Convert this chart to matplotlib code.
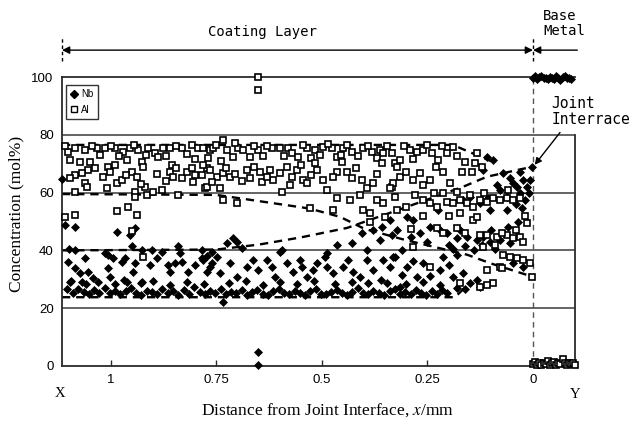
#!/usr/bin/python3

import matplotlib
matplotlib.use("Agg")
import matplotlib.pyplot as plt
from matplotlib.lines import Line2D

# ---- data (x: distance from interface in mm, y: mol%) ----

# dense Nb band along the lower envelope
nb_band_x = [1.105, 1.09, 1.078, 1.065, 1.052, 1.04, 1.028, 1.015, 1.003,
             0.99, 0.978, 0.965, 0.953, 0.94, 0.928, 0.915, 0.903,
             0.89, 0.878, 0.865, 0.853, 0.84, 0.828, 0.815, 0.803,
             0.79, 0.778, 0.765, 0.753, 0.74, 0.728, 0.715, 0.703,
             0.69, 0.678, 0.665, 0.653, 0.64, 0.628, 0.615, 0.603,
             0.59, 0.578, 0.565, 0.553, 0.54, 0.528, 0.515, 0.503,
             0.49, 0.478, 0.465, 0.453, 0.44, 0.428, 0.415, 0.403,
             0.39, 0.378, 0.365, 0.353, 0.34, 0.328, 0.315, 0.303,
             0.29, 0.278, 0.265, 0.253, 0.24, 0.228, 0.215, 0.203]
nb_band_y = [26.5, 25.2, 26.8, 25.5, 24.8, 26.2, 25.4, 27.0, 25.1, 26.0,
             24.9, 25.8, 26.9, 25.3, 24.7, 26.1, 25.6, 24.9, 26.6, 25.2,
             25.9, 24.6, 26.3, 25.0, 27.2, 25.5, 24.8, 26.0, 25.3, 26.7,
             24.9, 25.7, 25.1, 26.4, 24.7, 25.6, 26.2, 25.0, 24.6, 25.9,
             26.8, 25.2, 24.9, 26.1, 25.4, 24.7, 25.8, 26.5, 25.0, 24.8,
             25.6, 26.3, 25.1, 24.6, 25.7, 26.9, 25.3, 24.8, 26.0, 25.2,
             24.7, 25.9, 26.6, 25.0, 25.5, 24.8, 26.2, 25.1, 24.7, 25.8,
             24.9, 26.4, 25.3]

nb_row2_x = [1.095, 1.06, 1.03, 0.99, 0.97, 0.93, 0.9, 0.86, 0.82, 0.78,
             0.735, 0.72, 0.68, 0.64, 0.6, 0.56, 0.52, 0.47, 0.43, 0.39,
             0.36, 0.3, 0.26, 0.22, 0.18, 0.16]
nb_row2_y = [29.5, 28.5, 29.2, 28.3, 29.6, 28.7, 29.3, 28.2, 29.0, 28.4,
             22.0, 28.8, 29.5, 28.2, 29.0, 28.5, 29.4, 28.3, 29.1, 28.6,
             29.6, 28.4, 29.2, 28.0, 27.0, 26.5]

nb_mid = [(1.102, 36), (1.062, 37.4), (1.085, 33.9), (1.073, 32.2), (1.054, 32.5),
          (1.043, 30.4), (1.097, 29), (1.069, 29), (1.007, 33.9), (1.002, 30.8),
          (0.995, 37.4), (0.974, 36), (0.967, 37.4), (0.943, 35.6), (0.948, 32.5),
          (0.926, 29), (0.962, 29), (0.908, 34.9), (0.891, 37.4), (0.865, 34.9),
          (0.86, 32.5), (0.848, 35.6), (0.832, 36), (0.818, 32.5), (0.801, 34.9),
          (0.784, 37.4), (0.773, 32.5), (0.761, 35.6), (0.782, 36.7), (0.765, 34.3),
          (0.749, 37.7), (0.742, 32.2), (0.718, 35.6), (0.701, 30.8), (0.678, 34.3),
          (0.664, 36.7), (0.652, 33.2), (0.63, 36.7), (0.618, 34.3), (0.611, 30.8),
          (0.583, 35.6), (0.569, 32.5), (0.552, 36.7), (0.547, 34.3), (0.536, 30.8),
          (0.521, 33.2), (0.512, 35.6), (0.493, 37.7), (0.488, 34.3), (0.474, 32.2),
          (0.45, 34.3), (0.438, 36.7), (0.427, 32.5), (0.41, 30.8), (0.393, 36.7),
          (0.379, 33.2), (0.355, 36.7), (0.339, 34.3), (0.327, 37.7), (0.332, 37.7),
          (0.299, 34.3), (0.275, 30.8), (0.261, 35.6), (0.22, 33.2), (0.213, 37.7),
          (0.19, 30.8), (0.166, 32.2), (0.149, 28.7), (0.133, 29.8), (0.126, 27.3),
          (0.346, 28.7), (0.315, 27.3), (0.047, 35.6), (0.024, 34.3), (0.31, 31.5),
          (0.285, 36.5), (0.245, 31), (0.2, 35), (0.18, 38.5)]

nb_upper = [(1.109, 48.8), (1.085, 48.1), (0.986, 46.4), (0.955, 45.3), (0.943, 47.8),
            (1.1, 40.5), (1.085, 40), (1.014, 39), (1.007, 38.5), (0.95, 41.5),
            (0.926, 40), (0.903, 40), (0.879, 39.5), (0.84, 41.5), (0.836, 39),
            (0.785, 40.3), (0.773, 38), (0.76, 39.5), (0.711, 44.3), (0.701, 42.9),
            (0.725, 42.6), (0.69, 41), (0.6, 39.4), (0.595, 40), (0.488, 39.1),
            (0.464, 41.9), (0.429, 42.6), (0.405, 46), (0.379, 47.1), (0.358, 48.1),
            (0.334, 45.3), (0.393, 40.1), (0.363, 43.6), (1.116, 64.7)]

nb_trans = [(0.095, 71.3), (0.109, 72.3), (0.118, 67.8), (0.071, 66.8), (0.047, 63.3),
            (0.038, 62), (0.024, 64.4), (0.007, 64.4), (0.002, 68.9), (0.014, 62),
            (0.078, 60.9), (0.062, 58.5), (0.031, 59.9), (0.019, 57.4), (0.062, 54),
            (0.026, 54.7), (0.107, 58.1), (0.126, 56.4), (0.149, 58.5), (0.166, 57.4),
            (0.225, 54), (0.22, 47.1), (0.204, 46), (0.18, 44.3), (0.156, 44.6),
            (0.133, 43.6), (0.118, 44.6), (0.102, 42.9), (0.078, 43.6), (0.055, 42.6),
            (0.244, 48.1), (0.268, 46), (0.284, 50.5), (0.299, 51.6), (0.339, 50.5),
            (0.322, 47.1), (0.173, 47.1), (0.102, 54), (0.2, 42), (0.19, 40.5),
            (0.16, 41.5), (0.14, 40), (0.12, 41.8), (0.09, 40.5), (0.04, 56),
            (0.01, 60), (0.085, 62.5), (0.055, 65), (0.03, 67), (0.1, 47),
            (0.06, 48), (0.035, 50), (0.25, 43), (0.29, 44.5), (0.31, 40)]

nb_base_x = [0.0, -0.005, -0.01, -0.015, -0.02, -0.025, -0.03, -0.035, -0.04, -0.045,
             -0.05, -0.055, -0.06, -0.065, -0.07, -0.075, -0.08, -0.085, -0.09]
nb_base_y = [99.6, 100.2, 99.3, 99.9, 100.3, 99.5, 99.8, 99.2, 100.1, 99.7,
             99.4, 100.3, 99.6, 99.0, 99.9, 100.2, 99.5, 99.8, 99.4]

nb_stray = [(0.652, 0.3), (0.652, 5.0)]

al_top = [(1.101, 74.1), (1.097, 71.3), (1.085, 75.4), (1.073, 70.6), (1.062, 74.7),
          (1.05, 70.6), (1.033, 75.4), (1.014, 75.4), (0.991, 75.4), (0.972, 74),
          (0.962, 71.3), (0.955, 75.4), (0.936, 74.7), (0.926, 70.6), (0.912, 75.4),
          (0.896, 73.7), (0.889, 72.3), (0.877, 75.4), (0.86, 75.4), (0.856, 69.6),
          (0.832, 75.4), (0.808, 76.5), (0.794, 75.4), (0.77, 72), (0.765, 74.7),
          (0.735, 78.2), (0.782, 75.4), (0.758, 75.4), (0.725, 74.7), (0.711, 72.3),
          (0.699, 75.4), (0.687, 74.7), (0.671, 72.3), (0.652, 74.7), (0.618, 75.4),
          (0.6, 75.4), (0.581, 75.4), (0.571, 73.7), (0.557, 72.3), (0.536, 75.4),
          (0.517, 74.7), (0.498, 75.8), (0.476, 75.4), (0.464, 72.3), (0.45, 75.4),
          (0.429, 74), (0.403, 75.4), (0.382, 74), (0.363, 74.7), (0.334, 73.7),
          (0.327, 70.2), (0.355, 73.7), (0.315, 71.3), (0.291, 74.7), (0.275, 74),
          (0.261, 74.7), (0.239, 73.7), (0.225, 71.3), (0.204, 73.7), (0.19, 75.8),
          (0.133, 73.7), (0.137, 70.2), (0.145, 67.1), (1.11, 76), (1.045, 76.2),
          (1.025, 73), (1.0, 76), (0.98, 72.8), (0.945, 76.3), (0.918, 73),
          (0.87, 72.5), (0.845, 76), (0.82, 73.2), (0.8, 71.5), (0.75, 76.5),
          (0.74, 71), (0.705, 77), (0.66, 76), (0.64, 72.8), (0.63, 76.2),
          (0.59, 72.5), (0.545, 76.5), (0.525, 72), (0.505, 73), (0.485, 76.8),
          (0.455, 73), (0.44, 76.5), (0.415, 72.5), (0.39, 76.2), (0.37, 72),
          (0.345, 76), (0.305, 76), (0.285, 71.5), (0.25, 76.3), (0.215, 76),
          (0.18, 72.5), (0.16, 70.5), (0.12, 69)]

al_mid = [(1.054, 67.8), (1.069, 66.8), (1.085, 66.1), (1.097, 65), (1.038, 68.5),
          (1.062, 63.3), (1.057, 62), (1.085, 60.2), (1.007, 68.9), (1.002, 67.1),
          (1.009, 61.6), (0.986, 63.3), (0.974, 64.4), (0.95, 67.1), (0.943, 60.2),
          (0.943, 58.5), (0.938, 65.4), (0.924, 68.9), (0.919, 62), (0.914, 59.2),
          (0.9, 60.2), (0.879, 60.9), (0.86, 67.1), (0.853, 65.4), (0.841, 59.2),
          (0.832, 65), (0.82, 67.1), (0.808, 68.5), (0.806, 63.7), (0.784, 66.1),
          (0.777, 61.6), (0.773, 68.5), (0.782, 69.6), (0.765, 67.8), (0.749, 65.4),
          (0.735, 66.8), (0.718, 65.4), (0.773, 62), (0.742, 61.6), (0.678, 67.8),
          (0.671, 65), (0.647, 67.1), (0.642, 63.7), (0.623, 67.8), (0.616, 64.4),
          (0.6, 66.8), (0.595, 60.2), (0.583, 68.9), (0.571, 65.4), (0.559, 67.8),
          (0.545, 64.4), (0.536, 63.3), (0.517, 70.2), (0.512, 67.8), (0.498, 64.4),
          (0.488, 60.9), (0.464, 67.1), (0.453, 70.6), (0.441, 67.1), (0.429, 65),
          (0.405, 64.4), (0.393, 61.6), (0.379, 63.3), (0.358, 70.2), (0.334, 62),
          (0.322, 68.9), (0.315, 65.4), (0.332, 63.3), (0.339, 61.6), (0.284, 64.4),
          (0.268, 66.8), (0.244, 64.4), (0.213, 67.1), (0.197, 63.3), (0.168, 67.1),
          (0.18, 60.2), (0.213, 59.9), (1.02, 65.5), (0.99, 69.5), (0.965, 66),
          (0.93, 63), (0.89, 66.5), (0.87, 64), (0.845, 68.5), (0.8, 66),
          (0.76, 63.5), (0.728, 68.5), (0.705, 66.5), (0.69, 64), (0.66, 69),
          (0.63, 65.5), (0.575, 62.5), (0.55, 69.5), (0.525, 66), (0.475, 65.5),
          (0.42, 68.5), (0.37, 66.5), (0.3, 67), (0.26, 62.5), (0.23, 69)]

al_low = [(1.109, 51.6), (1.085, 52.2), (0.986, 53.6), (0.96, 55), (0.938, 52.2),
          (0.95, 46.7), (0.924, 37.7), (0.735, 57.4), (0.701, 56.4), (0.528, 54.7),
          (0.474, 54), (0.464, 58.1), (0.434, 57.4), (0.41, 59.2), (0.403, 54),
          (0.386, 52.9), (0.37, 57.4), (0.355, 56.4), (0.351, 51.6), (0.386, 49.8),
          (0.327, 58.5), (0.322, 54), (0.204, 56.7), (0.19, 56.4), (0.173, 57.4),
          (0.156, 56.4), (0.142, 55), (0.126, 57.4), (0.109, 56.7), (0.095, 58.1),
          (0.078, 57.4), (0.062, 58.1), (0.047, 57.4), (0.261, 57.4), (0.244, 56.4),
          (0.227, 55), (0.173, 52.9), (0.142, 50.5), (0.133, 51.6), (0.014, 49.5),
          (0.18, 47.8), (0.227, 47.8), (0.213, 46), (0.126, 45.3), (0.109, 45.3),
          (0.085, 44.6), (0.062, 45.3), (0.047, 44.3), (0.031, 44.6), (0.024, 42.9),
          (0.071, 38.4), (0.055, 37.7), (0.038, 37.4), (0.024, 36.7), (0.007, 35.6),
          (0.078, 34.3), (0.002, 30.8), (0.095, 28.7), (0.109, 28), (0.126, 27.3),
          (0.173, 28.7), (0.244, 34.3), (0.284, 41.2), (0.073, 46), (0.073, 33.9),
          (0.109, 33.2), (0.118, 41.2), (0.3, 55), (0.28, 59), (0.02, 52),
          (0.04, 47), (0.09, 42), (0.15, 59), (0.115, 60), (0.06, 61),
          (0.03, 58), (0.16, 46), (0.26, 52), (0.29, 47.5), (0.235, 60), (0.2, 52)]

al_base_x = [0.0, -0.005, -0.01, -0.015, -0.02, -0.025, -0.03, -0.035, -0.04, -0.045,
             -0.05, -0.055, -0.06, -0.065, -0.07, -0.075, -0.08, -0.085, -0.09, -0.095, -0.1]
al_base_y = [0.8, 1.5, 0.5, 1.2, 0.3, 1.0, 0.6, 1.6, 0.4, 0.9,
             1.3, 0.5, 1.1, 0.7, 2.5, 1.0, 0.4, 1.2, 0.6, 1.0, 0.3]

al_stray = [(0.652, 100.0), (0.652, 95.5)]

# dashed envelopes drawn on the original figure
env_al_upper = [(1.116, 76.5), (0.19, 76.5), (0.085, 70.0)]
env_nb_lower = [(1.116, 23.8), (0.185, 23.8), (0.15, 28.7)]
env_al_lower = [(1.116, 59.5), (0.75, 59.2), (0.67, 57.5), (0.53, 54.5), (0.457, 51.6),
                (0.4, 47.5), (0.3, 43.5), (0.156, 38.5), (0.1, 35.5), (0.014, 31.5)]
env_nb_upper = [(1.116, 40.0), (0.75, 40.3), (0.65, 42.0), (0.55, 44.5), (0.44, 47.8),
                (0.3, 55.0), (0.166, 62.0), (0.109, 65.5), (0.0, 69.0)]

x_ticks = [1, 0.75, 0.5, 0.25, 0]
x_tick_labels = ["1", "0.75", "0.5", "0.25", "0"]
y_ticks = [0, 20, 40, 60, 80, 100]

X_LEFT, X_RIGHT = 1.116, -0.0995


def xs(pts):
    return [p[0] for p in pts]


def ys(pts):
    return [p[1] for p in pts]


def main():
    plt.rcParams["mathtext.fontset"] = "stix"
    fig = plt.figure(figsize=(6.35, 4.26), dpi=100)
    ax = fig.add_axes([62 / 635, 60 / 426, 513 / 635, 289 / 426])
    ax.set_xlim(X_LEFT, X_RIGHT)
    ax.set_ylim(0, 100)

    line_col = "#2a2a2a"
    for s in ("left", "bottom", "top"):
        ax.spines[s].set_color(line_col)
        ax.spines[s].set_linewidth(1.3)
    ax.spines["right"].set_visible(False)
    ax.axvline(X_RIGHT, ymin=0, ymax=0.8, color=line_col, lw=1.3, clip_on=False)

    for gy in (20, 40, 60, 80):
        ax.axhline(gy, color="#3a3a3a", lw=1.1, zorder=1)

    # joint interface
    ax.plot([0, 0], [0, 100], color="#555555", lw=1.0, ls=(0, (4, 3)), zorder=1)

    # envelopes
    for env in (env_al_upper, env_nb_lower, env_al_lower, env_nb_upper):
        ax.plot(xs(env), ys(env), color="black", lw=1.7, ls=(0, (3.5, 2.5)), zorder=2)

    nb_kw = dict(ls="none", marker="D", ms=3.8, color="black", mew=0.5,
                 clip_on=False, zorder=3)
    al_kw = dict(ls="none", marker="s", ms=4.8, mfc="white", mec="black", mew=1.2,
                 clip_on=False, zorder=4)

    ax.plot(nb_band_x, nb_band_y, **nb_kw)
    ax.plot(nb_row2_x, nb_row2_y, **nb_kw)
    for grp in (nb_mid, nb_upper, nb_trans, nb_stray):
        ax.plot(xs(grp), ys(grp), **nb_kw)
    ax.plot(nb_base_x, nb_base_y, **nb_kw)

    for grp in (al_top, al_mid, al_low, al_stray):
        ax.plot(xs(grp), ys(grp), **al_kw)
    ax.plot(al_base_x, al_base_y, **al_kw)

    # ticks
    tick_font = dict(family="Liberation Sans", size=9.5)
    ax.set_xticks(x_ticks)
    ax.set_xticklabels(x_tick_labels, **tick_font)
    ax.set_yticks(y_ticks)
    ax.set_yticklabels([str(v) for v in y_ticks], **tick_font)
    ax.tick_params(axis="x", direction="in", length=4, width=1.0, pad=6, color=line_col)
    ax.tick_params(axis="y", length=0, pad=6)

    serif = "Liberation Serif"
    ax.text(X_LEFT + 0.005, -9.5, "X", ha="center", va="center", family=serif, size=10.5)
    ax.text(X_RIGHT, -10.0, "Y", ha="center", va="center", family=serif, size=10.5)
    fig.text(328 / 635, 1 - 410 / 426, "Distance from Joint Interface, $x$/mm",
             ha="center", va="center", family=serif, size=12.5)
    fig.text(16 / 635, 1 - 214 / 426, "Concentration (mol%)", rotation=90,
             ha="center", va="center", family=serif, size=12.5)

    # legend
    handles = [Line2D([], [], ls="none", marker="D", ms=3.8, color="black"),
               Line2D([], [], ls="none", marker="s", ms=5, mfc="white", mec="black", mew=1.0)]
    leg = ax.legend(handles, ["Nb", "Al"], loc="upper left",
                    bbox_to_anchor=(4 / 513, 1 - 8 / 289), borderaxespad=0,
                    fancybox=False, edgecolor="black", fontsize=7, handlelength=0.8,
                    handletextpad=0.3, borderpad=0.45, labelspacing=0.55)
    leg.get_frame().set_linewidth(1.0)
    for t in leg.get_texts():
        t.set_family("Liberation Sans")

    # region annotations above the plot
    mono = "DejaVu Sans Mono"
    y_arr = 109.3
    ax.annotate("", xy=(X_LEFT, y_arr), xytext=(0, y_arr), annotation_clip=False,
                arrowprops=dict(arrowstyle="<|-|>", color="black", lw=1.0,
                                mutation_scale=11, shrinkA=0, shrinkB=0))
    ax.annotate("", xy=(0, y_arr), xytext=(-0.105, y_arr), annotation_clip=False,
                arrowprops=dict(arrowstyle="-|>", color="black", lw=1.0,
                                mutation_scale=11, shrinkA=0, shrinkB=0))
    for vx in (X_LEFT, 0):
        ax.plot([vx, vx], [105.5, 113.8], color="black", lw=1.0, ls=(0, (2.5, 2)),
                clip_on=False)
    ax.text(0.64, 115.6, "Coating Layer", ha="center", va="center", family=mono, size=10)
    ax.text(-0.024, 118.5, "Base\nMetal", ha="left", va="center", family=mono,
            size=10, linespacing=1.15)

    ax.text(-0.043, 88.0, "Joint\nInterrace", ha="left", va="center", family=mono,
            size=10.5, linespacing=1.1)
    ax.annotate("", xy=(-0.004, 69.6), xytext=(-0.064, 80.8), annotation_clip=False,
                arrowprops=dict(arrowstyle="-|>", color="black", lw=1.0,
                                mutation_scale=10, shrinkA=0, shrinkB=0))

    plt.savefig("out.png", dpi=100)


if __name__ == "__main__":
    main()
